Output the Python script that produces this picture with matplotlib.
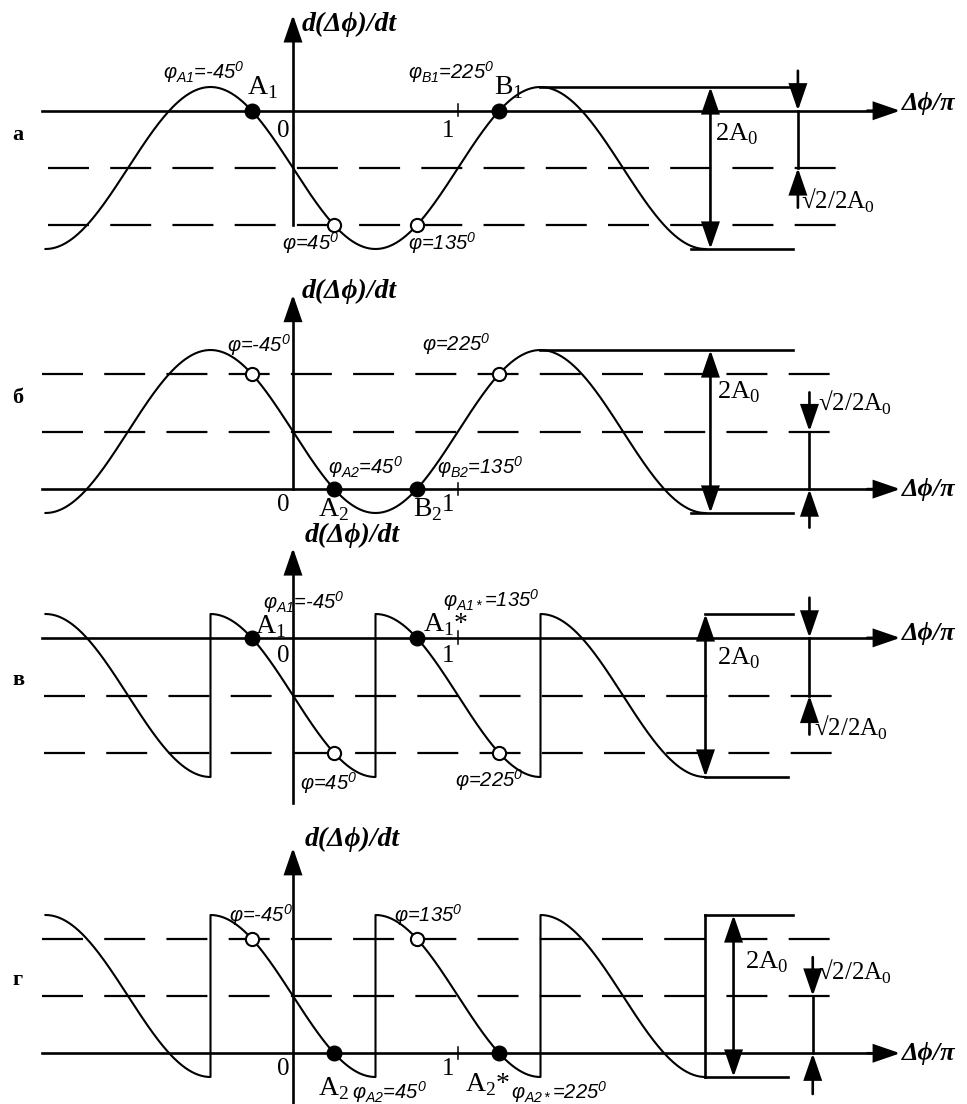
import numpy as np
import matplotlib
matplotlib.use('Agg')
import matplotlib.pyplot as plt

plt.rcParams['lines.scale_dashes'] = False
plt.rcParams['mathtext.fontset'] = 'custom'
plt.rcParams['mathtext.rm'] = 'Liberation Sans:italic'
plt.rcParams['mathtext.it'] = 'Liberation Sans:italic'
plt.rcParams['mathtext.sf'] = 'Liberation Serif'

# ---------------- data ----------------
panel_letters = ['а', 'б', 'в', 'г']
curve_kind = ['sine', 'sine', 'saw', 'saw']
u_start, u_end = -1.5, 2.5
saw_starts = [-1.5, -0.5, 0.5, 1.5]
axis_level = [0.707, -0.707, 0.707, -0.707]
dashed_levels = [[0.0, -0.707], [0.707, 0.0], [0.0, -0.707], [0.707, 0.0]]
open_pts = [[0.25, 0.75], [-0.25, 1.25], [0.25, 1.25], [-0.25, 0.75]]
filled_pts = [[-0.25, 1.25], [0.25, 0.75], [-0.25, 0.75], [0.25, 1.25]]
tick_values = [0, 1]
tick_labels = ['0', '1']

# annotations: (text, u, v, kind)
annotations = [
    [(r'$φ_{A1}$=-45$^{0}$', -0.79, 1.18, 'phi'), (r'A$_{\mathsf{1}}$', -0.28, 0.99, 'pt'),
     (r'$φ_{B1}$=225$^{0}$', 0.70, 1.18, 'phi'), (r'B$_{\mathsf{1}}$', 1.22, 0.99, 'pt'),
     (r'φ=45$^{0}$', -0.067, -0.93, 'phi'), (r'φ=135$^{0}$', 0.70, -0.93, 'phi')],
    [(r'φ=-45$^{0}$', -0.40, 1.06, 'phi'), (r'φ=225$^{0}$', 0.78, 1.07, 'phi'),
     (r'$φ_{A2}$=45$^{0}$', 0.21, -0.44, 'phi'), (r'$φ_{B2}$=135$^{0}$', 0.87, -0.44, 'phi'),
     (r'A$_{\mathsf{2}}$', 0.15, -0.96, 'pt'), (r'B$_{\mathsf{2}}$', 0.73, -0.96, 'pt')],
    [(r'$φ_{A1}$=-45$^{0}$', -0.18, 1.15, 'phi'), (r'A$_{\mathsf{1}}$', -0.23, 0.84, 'pt'),
     (r'$φ_{A1*}$=135$^{0}$', 0.91, 1.17, 'phi'), (r'A$_{\mathsf{1}}$*', 0.79, 0.87, 'pt'),
     (r'φ=45$^{0}$', 0.04, -1.07, 'phi'), (r'φ=225$^{0}$', 0.98, -1.04, 'phi')],
    [(r'φ=-45$^{0}$', -0.39, 1.0, 'phi'), (r'φ=135$^{0}$', 0.61, 1.0, 'phi'),
     (r'A$_{\mathsf{2}}$', 0.15, -1.14, 'pt'), (r'$φ_{A2}$=45$^{0}$', 0.36, -1.19, 'phi'),
     (r'A$_{\mathsf{2}}$*', 1.04, -1.09, 'pt'), (r'$φ_{A2*}$=225$^{0}$', 1.32, -1.19, 'phi')],
]

# ---------------- layout (pixels) ----------------
W, H = 967, 1104
X0, SX = 293, 165
Y0 = [168, 431.5, 695.5, 996]
SY = [81, 81.5, 81.5, 81]

x_axis_range = (-1.52, 3.68)
dash_range = [(-1.485, 3.33), (-1.52, 3.29), (-1.51, 3.30), (-1.52, 3.29)]
y_axis_range = [(-0.70, 1.89), (-0.707, 1.68), (-1.32, 1.81), (-1.33, 1.83)]
y_label_pos = [(0.055, 1.77), (0.055, 1.72), (0.07, 1.97), (0.07, 1.93)]
x_label_dv = [0.09, 0.0, 0.05, 0.0]
tick_label_dv = [-0.25, -0.20, -0.22, -0.20]
top_line = [(1.5, 3.03), (1.5, 3.03), (2.5, 3.03), (2.5, 3.03)]
bot_line = [(2.41, 3.03), (2.41, 3.03), (2.5, 3.0), (2.5, 3.0)]
box_side = [False, False, False, True]
amp_arrow_u = [2.53, 2.53, 2.5, 2.67]
amp_label = [(2.56, 0.41), (2.57, 0.48), (2.57, 0.46), (2.74, 0.42)]
sq_u = [3.06, 3.13, 3.13, 3.15]
sq_down_from = [1.2, 0.48, 1.2, 0.48]
sq_up_from = [-0.49, -1.18, -0.48, -1.21]
sq_label = [(3.08, -0.40), (3.18, 0.35), (3.16, -0.40), (3.18, 0.30)]
letter_pos = [(-1.70, 0.41), (-1.70, 0.41), (-1.70, 0.19), (-1.70, 0.20)]

LW_AX = 1.9
LW_CURVE = 1.5
SERIF = ['Liberation Serif', 'DejaVu Serif']
SANS = ['Liberation Sans', 'DejaVu Sans']

fig = plt.figure(figsize=(W / 100, H / 100), dpi=100)


def arrow(ax, tail, tip, both=False, lw=LW_AX):
    style = '<|-|>' if both else '-|>'
    ax.annotate('', xy=tip, xytext=tail,
                arrowprops=dict(arrowstyle=style + ',head_length=1.6,head_width=0.55',
                                mutation_scale=10, lw=lw, color='black',
                                shrinkA=0, shrinkB=0, joinstyle='miter'),
                annotation_clip=False)


for i in range(4):
    ax = fig.add_axes([0, 0, 1, 1])
    ax.set_xlim(-X0 / SX, (W - X0) / SX)
    ax.set_ylim((Y0[i] - H) / SY[i], Y0[i] / SY[i])
    ax.axis('off')
    ax.patch.set_alpha(0)

    # curve
    if curve_kind[i] == 'sine':
        u = np.linspace(u_start, u_end, 600)
        v = -np.sin(np.pi * u)
    else:
        us, vs = [], []
        for s in saw_starts:
            uu = np.linspace(s, s + 1, 150)
            us.append(uu)
            vs.append(np.cos(np.pi * (uu - s)))
        u = np.concatenate(us)
        v = np.concatenate(vs)
    ax.plot(u, v, color='black', lw=LW_CURVE, zorder=3)

    # dashed levels
    for lvl in dashed_levels[i]:
        ax.plot(dash_range[i], [lvl, lvl], color='black', lw=1.6,
                linestyle=(0, (29.5, 15.3)), zorder=2)

    # x axis
    al = axis_level[i]
    ax.plot([x_axis_range[0], x_axis_range[1] - 0.1], [al, al], color='black', lw=LW_AX, zorder=2)
    arrow(ax, (x_axis_range[1] - 0.2, al), (x_axis_range[1], al))
    ax.text(x_axis_range[1] + 0.01, al + x_label_dv[i], 'Δϕ/π', family=SERIF,
            fontweight='bold', fontstyle='italic', fontsize=19, ha='left', va='center')

    # y axis
    yb, yt = y_axis_range[i]
    ax.plot([0, 0], [yb, yt - 0.2], color='black', lw=LW_AX, zorder=2)
    arrow(ax, (0, yt - 0.3), (0, yt))
    ax.text(y_label_pos[i][0], y_label_pos[i][1], 'd(Δϕ)/dt', family=SERIF,
            fontweight='bold', fontstyle='italic', fontsize=20, ha='left', va='center')

    # tick at 1 and tick labels
    ax.plot([1, 1], [al - 0.07, al + 0.08], color='black', lw=1.1)
    for tv, tl in zip(tick_values, tick_labels):
        ax.text(tv - 0.06, al + tick_label_dv[i], tl, family=SERIF, fontsize=18,
                ha='center', va='center')

    # points
    ax.plot(open_pts[i], [(-np.sin(np.pi * p) if curve_kind[i] == 'sine' else
                           np.cos(np.pi * (p - max(s for s in saw_starts if s <= p))))
                          for p in open_pts[i]],
            'o', ms=9.5, mfc='white', mec='black', mew=1.5, zorder=5, linestyle='none')
    ax.plot(filled_pts[i], [al] * len(filled_pts[i]), 'o', ms=10.5, mfc='black',
            mec='black', zorder=5, linestyle='none')

    # annotations
    for txt, tu, tv, kind in annotations[i]:
        if kind == 'phi':
            ax.text(tu, tv, txt, family=SANS, fontstyle='italic', fontsize=14.5,
                    ha='left', va='center')
        else:
            ax.text(tu, tv, txt, family=SERIF, fontsize=20, ha='left', va='center')

    # amplitude lines and arrows
    ax.plot(top_line[i], [1, 1], color='black', lw=LW_AX)
    ax.plot(bot_line[i], [-1, -1], color='black', lw=LW_AX)
    if box_side[i]:
        ax.plot([top_line[i][0]] * 2, [-1, 1], color='black', lw=LW_AX)
    arrow(ax, (amp_arrow_u[i], -1), (amp_arrow_u[i], 1), both=True)
    ax.text(amp_label[i][0], amp_label[i][1], r'2A$_{\mathsf{0}}$', family=SERIF,
            fontsize=19, ha='left', va='center')

    hi, lo = max(al, 0.0), min(al, 0.0)
    arrow(ax, (sq_u[i], sq_down_from[i]), (sq_u[i], hi))
    ax.plot([sq_u[i]] * 2, [lo, hi], color='black', lw=LW_AX)
    arrow(ax, (sq_u[i], sq_up_from[i]), (sq_u[i], lo))
    ax.text(sq_label[i][0], sq_label[i][1], r'√2/2A$_{\mathsf{0}}$', family=SERIF,
            fontsize=18, ha='left', va='center')

    ax.text(letter_pos[i][0], letter_pos[i][1], panel_letters[i], family=SERIF,
            fontweight='bold', fontsize=16, ha='left', va='center')

fig.savefig('out.png', dpi=100, facecolor='white')
